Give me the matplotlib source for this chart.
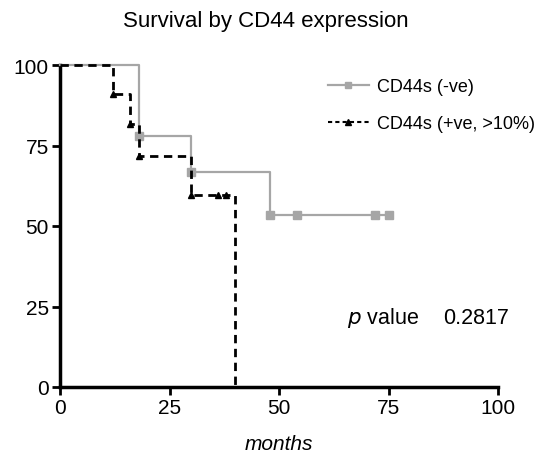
import numpy as np
import matplotlib
matplotlib.use("Agg")
import matplotlib.pyplot as plt

plt.rcParams['font.family'] = ['Liberation Sans', 'DejaVu Sans']

# Kaplan-Meier steps (months, % survival)
neg_times = [0, 18, 30, 48, 75]
neg_surv = [100, 77.8, 66.7, 53.3, 53.3]
neg_marks = [18, 30, 48, 54, 72, 75]

pos_times = [0, 12, 16, 18, 30, 40]
pos_surv = [100, 90.9, 81.8, 71.6, 59.7, 0]
pos_marks = [12, 16, 18, 30, 36, 38]

x_ticks = [0, 25, 50, 75, 100]
y_ticks = [0, 25, 50, 75, 100]
p_value = "0.2817"


def surv_at(times, surv, t):
    # value of a post-step curve at time t
    idx = np.searchsorted(times, t, side='right') - 1
    return surv[idx]


fig = plt.figure(figsize=(5.49, 4.56), dpi=100)
ax = fig.add_axes([60 / 549, 68 / 456, 438 / 549, 322 / 456])

grey = '#a6a6a6'
ax.step(neg_times, neg_surv, where='post', color=grey, lw=1.6, clip_on=False, zorder=3)
ax.plot(neg_marks, [surv_at(neg_times, neg_surv, t) for t in neg_marks], 's',
        color=grey, ms=5.5, clip_on=False, zorder=4)

ax.step(pos_times, pos_surv, where='post', color='black', lw=2, ls=(0, (3, 2)),
        clip_on=False, zorder=5)
ax.plot(pos_marks, [surv_at(pos_times, pos_surv, t) for t in pos_marks], '^',
        color='black', ms=4.5, clip_on=False, zorder=6)

# legend handles
h1, = ax.plot([], [], color=grey, lw=1.6, marker='s', ms=5)
h2, = ax.plot([], [], color='black', lw=1.5, ls=(0, (2, 1.5)), marker='^', ms=4.5)
ax.legend([h1, h2], ['CD44s (-ve)', 'CD44s (+ve, >10%)'], loc='upper left',
          bbox_to_anchor=(0.575, 1.01), frameon=False, fontsize=13,
          handlelength=2.25, handletextpad=0.45, labelspacing=1.1)

ax.text(0.655, 0.217, r'$p$ value', transform=ax.transAxes,
        fontsize=15.5, ha='left', va='center')
ax.text(0.874, 0.217, p_value, transform=ax.transAxes,
        fontsize=15.5, ha='left', va='center')

ax.set_xlim(0, 100)
ax.set_ylim(0, 100)
ax.set_xticks(x_ticks)
ax.set_yticks(y_ticks)
ax.tick_params(labelsize=15, width=2, length=6, direction='out', pad=2)

for side in ['top', 'right']:
    ax.spines[side].set_visible(False)
for side in ['left', 'bottom']:
    ax.spines[side].set_linewidth(2.5)

ax.set_xlabel('months', fontsize=15, style='italic', labelpad=12)
fig.text(0.485, 0.952, 'Survival by CD44 expression', ha='center', va='center', fontsize=16)

fig.savefig('out.png', dpi=100)
